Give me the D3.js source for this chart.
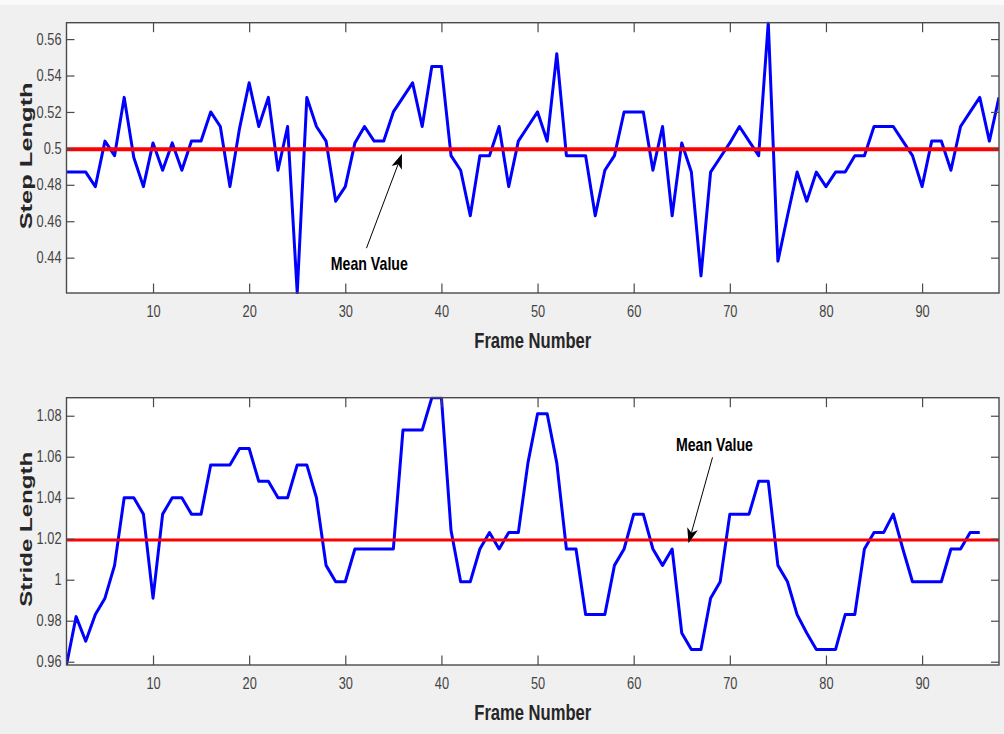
<!DOCTYPE html>
<html lang="en">
<head>
    <meta charset="UTF-8">
    <title>Step and Stride Length</title>
    <script src="https://d3js.org/d3.v7.min.js"></script>
    <style>
        body { margin: 0; background: #f0f0f0; }
        svg { display: block; }
    </style>
</head>
<body>
<div id="chart"></div>

<script>
    // values, one per frame (frame = index + 1)
    const stepLength = [
        0.487, 0.487, 0.487, 0.479, 0.504, 0.496, 0.528, 0.495, 0.479, 0.503,
        0.488, 0.503, 0.488, 0.504, 0.504, 0.520, 0.512, 0.479, 0.511, 0.536,
        0.512, 0.528, 0.488, 0.512, 0.4206, 0.528, 0.512, 0.504, 0.471, 0.479,
        0.503, 0.512, 0.504, 0.504, 0.520, 0.528, 0.536, 0.512, 0.545, 0.545,
        0.496, 0.488, 0.463, 0.496, 0.496, 0.512, 0.479, 0.504, 0.512, 0.520,
        0.504, 0.552, 0.496, 0.496, 0.496, 0.463, 0.488, 0.496, 0.520, 0.520,
        0.520, 0.488, 0.512, 0.463, 0.503, 0.487, 0.430, 0.487, 0.495, 0.503,
        0.512, 0.504, 0.496, 0.569, 0.438, 0.463, 0.487, 0.471, 0.487, 0.479,
        0.487, 0.487, 0.496, 0.496, 0.512, 0.512, 0.512, 0.504, 0.496, 0.479,
        0.504, 0.504, 0.488, 0.512, 0.520, 0.528, 0.504, 0.528
    ];
    const strideLength = [
        0.9584, 0.982, 0.970, 0.983, 0.991, 1.007, 1.040, 1.040, 1.032, 0.991,
        1.032, 1.040, 1.040, 1.032, 1.032, 1.056, 1.056, 1.056, 1.064, 1.064,
        1.048, 1.048, 1.040, 1.040, 1.056, 1.056, 1.040, 1.007, 0.999, 0.999,
        1.015, 1.015, 1.015, 1.015, 1.015, 1.073, 1.073, 1.073, 1.0888, 1.0888,
        1.024, 0.999, 0.999, 1.015, 1.023, 1.015, 1.023, 1.023, 1.057, 1.081,
        1.081, 1.057, 1.015, 1.015, 0.983, 0.983, 0.983, 1.007, 1.015, 1.032,
        1.032, 1.015, 1.007, 1.015, 0.974, 0.966, 0.966, 0.991, 0.999, 1.032,
        1.032, 1.032, 1.048, 1.048, 1.007, 0.999, 0.983, 0.974, 0.966, 0.966,
        0.966, 0.983, 0.983, 1.015, 1.023, 1.023, 1.032, 1.015, 0.999, 0.999,
        0.999, 0.999, 1.015, 1.015, 1.023, 1.023
    ];
    const stepMean = 0.4995;
    const strideMean = 1.0194;

    const frameDomain = [1, 98];
    const xTicks = [10, 20, 30, 40, 50, 60, 70, 80, 90];
    const stepTicks = [0.44, 0.46, 0.48, 0.5, 0.52, 0.54, 0.56];
    const strideTicks = [0.96, 0.98, 1, 1.02, 1.04, 1.06, 1.08];

    // annotation: [text x, text y, arrow tail x, tail y, arrow tip x, tip y] in data units
    const stepNote = [32.5, 0.4332, 32.2, 0.4452, 35.9, 0.4970];
    const strideNote = [68.4, 1.0629, 68.2, 1.0597, 65.7, 1.0178];

    const W = 1004, H = 734;
    const left = 66.5, right = 999;
    const tickScale = 0.8;

    const svg = d3.select("#chart").append("svg")
        .attr("width", W)
        .attr("height", H);

    svg.append("rect").attr("width", W).attr("height", H).attr("fill", "#f0f0f0");
    svg.append("rect").attr("width", W).attr("height", 5).attr("fill", "#fafafa");

    function drawPanel(id, values, mean, yTicks, yLabel, labelLen, top, bottom, meanWidth, note) {
        const x = d3.scaleLinear().domain(frameDomain).range([left, right]);
        const y = d3.scaleLinear().domain(d3.extent(values)).range([bottom, top]);
        const g = svg.append("g");

        g.append("rect")
            .attr("x", left).attr("y", top)
            .attr("width", right - left).attr("height", bottom - top)
            .attr("fill", "white");

        g.append("defs").append("clipPath").attr("id", id)
            .append("rect")
            .attr("x", left).attr("y", top - 1)
            .attr("width", right - left).attr("height", bottom - top + 2);

        const line = d3.line()
            .x((d, i) => x(i + 1))
            .y(d => y(d));

        g.append("path")
            .datum(values)
            .attr("clip-path", "url(#" + id + ")")
            .attr("d", line)
            .attr("fill", "none")
            .attr("stroke", "#0000ff")
            .attr("stroke-width", 3)
            .attr("stroke-linejoin", "round");

        g.append("line")
            .attr("x1", x(frameDomain[0])).attr("x2", x(frameDomain[1]))
            .attr("y1", y(mean)).attr("y2", y(mean))
            .attr("stroke", "#ff0000")
            .attr("stroke-width", meanWidth);

        // ticks point inwards on all four sides, like matlab
        const xb = g.append("g").attr("transform", "translate(0," + bottom + ")")
            .call(d3.axisBottom(x).tickValues(xTicks).tickSizeInner(-9.5).tickSizeOuter(0).tickPadding(12.5));
        g.append("g").attr("transform", "translate(0," + top + ")")
            .call(d3.axisTop(x).tickValues(xTicks).tickSizeInner(-9.5).tickSizeOuter(0).tickFormat(""));
        const yl = g.append("g").attr("transform", "translate(" + left + ",0)")
            .call(d3.axisLeft(y).tickValues(yTicks).tickSizeInner(-8).tickSizeOuter(0).tickFormat(d3.format("~g")));
        g.append("g").attr("transform", "translate(" + right + ",0)")
            .call(d3.axisRight(y).tickValues(yTicks).tickSizeInner(-8).tickSizeOuter(0).tickFormat(""));

        g.selectAll(".domain").remove();
        g.selectAll(".tick line").attr("stroke", "#4a4a4a").attr("stroke-width", 1.2);
        g.selectAll(".tick text")
            .attr("fill", "#444")
            .style("font-family", "'Liberation Sans', Arial, sans-serif")
            .style("font-size", "16px");
        xb.selectAll(".tick text").attr("transform", "scale(" + tickScale + ",1)");
        yl.selectAll(".tick text")
            .attr("transform", "scale(" + tickScale + ",1)")
            .attr("x", -5 / tickScale);

        g.append("rect")
            .attr("x", left).attr("y", top)
            .attr("width", right - left).attr("height", bottom - top)
            .attr("fill", "none")
            .attr("stroke", "#4a4a4a")
            .attr("stroke-width", 1.4);

        g.append("text")
            .attr("x", (left + right) / 2)
            .attr("y", bottom + 54.5)
            .attr("text-anchor", "middle")
            .attr("textLength", 117)
            .attr("lengthAdjust", "spacingAndGlyphs")
            .style("font-family", "'Liberation Sans', Arial, sans-serif")
            .style("font-weight", "bold")
            .style("font-size", "22px")
            .attr("fill", "#262626")
            .text("Frame Number");

        g.append("text")
            .attr("transform", "translate(32," + ((top + bottom) / 2 - 2) + ") rotate(-90)")
            .attr("text-anchor", "middle")
            .attr("textLength", labelLen)
            .attr("lengthAdjust", "spacingAndGlyphs")
            .style("font-family", "'Liberation Sans', Arial, sans-serif")
            .style("font-weight", "bold")
            .style("font-size", "17px")
            .attr("fill", "#262626")
            .text(yLabel);

        // "Mean Value" annotation with arrow
        const tx = x(note[0]), ty = y(note[1]);
        const ax = x(note[2]), ay = y(note[3]);
        const bx = x(note[4]), by = y(note[5]);
        g.append("text")
            .attr("x", tx).attr("y", ty)
            .attr("text-anchor", "middle")
            .attr("textLength", 77)
            .attr("lengthAdjust", "spacingAndGlyphs")
            .style("font-family", "'Liberation Sans', Arial, sans-serif")
            .style("font-weight", "bold")
            .style("font-size", "19px")
            .attr("fill", "black")
            .text("Mean Value");

        const len = Math.hypot(bx - ax, by - ay);
        const ux = (bx - ax) / len, uy = (by - ay) / len;
        const headLen = 15, headW = 5.5, back = 4;
        g.append("line")
            .attr("x1", ax).attr("y1", ay)
            .attr("x2", bx - ux * (headLen - back)).attr("y2", by - uy * (headLen - back))
            .attr("stroke", "black")
            .attr("stroke-width", 1);
        const pts = [
            [bx, by],
            [bx - ux * headLen - uy * headW, by - uy * headLen + ux * headW],
            [bx - ux * (headLen - back), by - uy * (headLen - back)],
            [bx - ux * headLen + uy * headW, by - uy * headLen - ux * headW]
        ];
        g.append("polygon")
            .attr("points", pts.map(p => p.join(",")).join(" "))
            .attr("fill", "black");
    }

    drawPanel("clip-step", stepLength, stepMean, stepTicks, "Step Length", 147, 22.7, 293, 4, stepNote);
    drawPanel("clip-stride", strideLength, strideMean, strideTicks, "Stride Length", 155, 397.7, 665, 3, strideNote);
</script>
</body>
</html>
